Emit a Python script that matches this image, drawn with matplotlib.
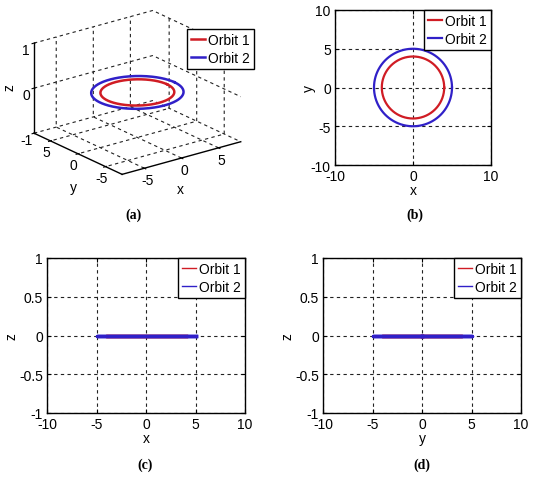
import numpy as np
import matplotlib
matplotlib.use("Agg")
import matplotlib.pyplot as plt

plt.rcParams["font.family"] = ["Liberation Sans", "DejaVu Sans"]
plt.rcParams["font.size"] = 10
plt.rcParams["axes.unicode_minus"] = False
plt.rcParams["grid.linestyle"] = (0, (3, 3))
plt.rcParams["grid.color"] = "#222222"
plt.rcParams["grid.linewidth"] = 0.8
plt.rcParams["axes.linewidth"] = 1.0

# orbit data
orbit_names = ["Orbit 1", "Orbit 2"]
orbit_radius = [4, 5]
orbit_height = [0, 0]
orbit_colors = ["#d01c24", "#3020c8"]

# axis settings
lim_3d = [-8, 8]
ticks_3d = [-5, 0, 5]
zticks_3d = [-1, 0, 1]
lim_2d = [-10, 10]
ticks_2d = [-10, -5, 0, 5, 10]
ticks_z = [-1, -0.5, 0, 0.5, 1]
zlabels = ["-1", "-0.5", "0", "0.5", "1"]
captions = ["(a)", "(b)", "(c)", "(d)"]

theta = np.linspace(0, 2 * np.pi, 361)
orbits = []
for r, h in zip(orbit_radius, orbit_height):
    orbits.append((r * np.cos(theta), r * np.sin(theta), np.full_like(theta, h)))

W, H = 540, 489
fig = plt.figure(figsize=(W / 100, H / 100), dpi=100)

leg_kw = dict(borderaxespad=0, fancybox=False, framealpha=1, edgecolor="black",
              handlelength=1.0, handletextpad=0.2, borderpad=0.3, labelspacing=0.25)


def px_rect(left, top, right, bottom):
    return [left / W, 1 - bottom / H, (right - left) / W, (bottom - top) / H]


def style_2d(ax):
    ax.grid(True)
    ax.tick_params(direction="in", top=True, right=True, length=3, width=0.8, pad=3)
    leg = ax.legend(loc="upper right", **leg_kw)
    leg.get_frame().set_linewidth(1.0)
    return leg


# (a) 3D view
ax3 = fig.add_axes([-0.011, 0.583, 0.52, 0.44], projection="3d", proj_type="ortho")
for (x, y, z), name, c in zip(orbits, orbit_names, orbit_colors):
    ax3.plot(x, y, z, color=c, lw=1.8, label=name)
ax3.set_xlim(lim_3d)
ax3.set_ylim(lim_3d)
ax3.set_zlim(-1, 1)
ax3.set_xticks(ticks_3d)
ax3.set_yticks(ticks_3d)
ax3.set_zticks(zticks_3d)
ax3.view_init(elev=21, azim=-127.5)
ax3.set_box_aspect((1.55, 1.5, 1.0), zoom=1.035)
for axis in (ax3.xaxis, ax3.yaxis, ax3.zaxis):
    axis.set_pane_color((1, 1, 1, 0))
    axis.pane.set_edgecolor((1, 1, 1, 0))
    axis.line.set_linewidth(1.0)
    axis.line.set_color("black")
ax3.tick_params(pad=-5)
# axis labels of the 3D panel, placed as in the reference
for lbl, (lx, ly), rot in [("x", (180, 190), 0), ("y", (73, 188), 0), ("z", (10, 88), 90)]:
    fig.text(lx / W, 1 - ly / H, lbl, ha="center", va="center", rotation=rot)
leg3 = ax3.legend(loc="upper left", bbox_to_anchor=(187 / W, 1 - 30 / H),
                  bbox_transform=fig.transFigure, **leg_kw)
leg3.get_frame().set_linewidth(1.0)

# (b) x-y plane
axb = fig.add_axes(px_rect(335, 11, 491, 166))
for (x, y, z), name, c in zip(orbits, orbit_names, orbit_colors):
    axb.plot(x, y, color=c, lw=1.6, label=name)
axb.set_xlim(lim_2d)
axb.set_ylim(lim_2d)
axb.set_xticks([-10, 0, 10])
axb.set_yticks(ticks_2d)
axb.set_xlabel("x", labelpad=0)
axb.set_ylabel("y", labelpad=-4)
style_2d(axb)

# (c) x-z plane
axc = fig.add_axes(px_rect(47, 259, 245, 414))
for (x, y, z), name, c in zip(orbits, orbit_names, orbit_colors):
    axc.plot(x, z, color=c, lw=2.5, label=name)
axc.set_xlim(lim_2d)
axc.set_ylim(-1, 1)
axc.set_xticks(ticks_2d)
axc.set_yticks(ticks_z, zlabels)
axc.set_xlabel("x", labelpad=0)
axc.set_ylabel("z", labelpad=0)
lc = style_2d(axc)
for hl in lc.get_lines():
    hl.set_linewidth(1.0)

# (d) y-z plane
axd = fig.add_axes(px_rect(323, 259, 521, 414))
for (x, y, z), name, c in zip(orbits, orbit_names, orbit_colors):
    axd.plot(y, z, color=c, lw=2.5, label=name)
axd.set_xlim(lim_2d)
axd.set_ylim(-1, 1)
axd.set_xticks(ticks_2d)
axd.set_yticks(ticks_z, zlabels)
axd.set_xlabel("y", labelpad=0)
axd.set_ylabel("z", labelpad=0)
ld = style_2d(axd)
for hl in ld.get_lines():
    hl.set_linewidth(1.0)

# captions
cap_pos = [(133, 215), (415, 215), (145, 465), (422, 465)]
for txt, (cx, cy) in zip(captions, cap_pos):
    fig.text(cx / W, 1 - cy / H, txt, ha="center", va="center",
             family=["Liberation Serif"], fontweight="bold", fontsize=10)

fig.savefig("out.png", dpi=100)
